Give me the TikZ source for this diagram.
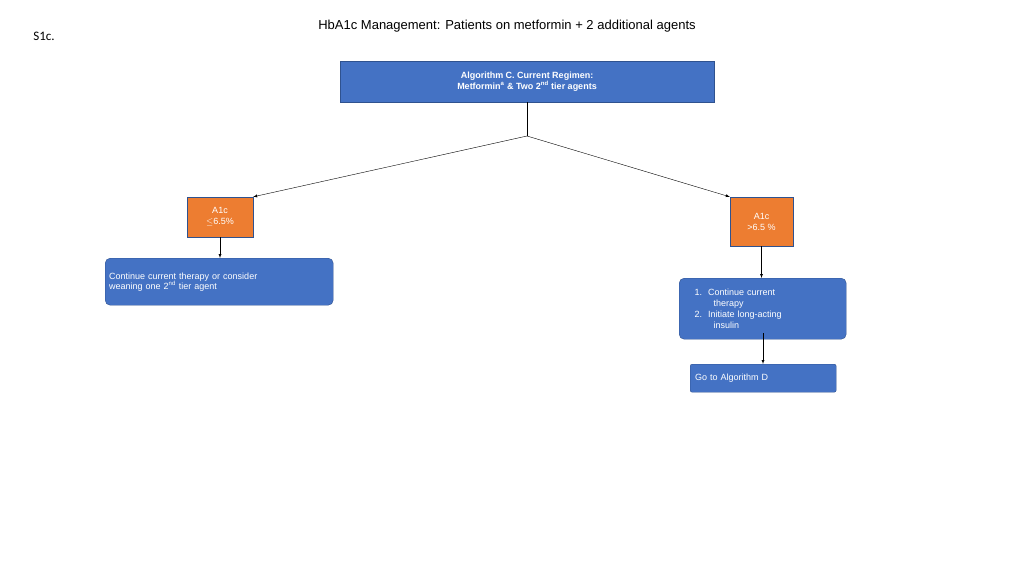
\documentclass[tikz,border=0pt]{standalone}
\usepackage{fontspec}
\setmainfont{Liberation Sans}
\newfontfamily\slidefont{Carlito}
\usetikzlibrary{positioning}
\definecolor{boxblue}{HTML}{4472C4}
\definecolor{boxline}{HTML}{2F528F}
\definecolor{boxorange}{HTML}{ED7D31}
\tikzset{
  head/.style={draw=boxline, fill=boxblue, text=white, font=\bfseries\fontsize{9}{11}\selectfont, align=center, inner sep=0pt},
  test/.style={draw=boxline, fill=boxorange, text=white, font=\fontsize{9}{11}\selectfont, align=center, inner sep=0pt},
  action/.style={draw=boxline, fill=boxblue, text=white, rounded corners=5pt, font=\fontsize{9}{11}\selectfont, align=left, inner sep=0pt},
  link/.style={draw=black, thin, -latex}
}
\begin{document}
\begin{tikzpicture}[x=1pt,y=-1pt]
\useasboundingbox (0,0) rectangle (1024,576);
%titles
\node[font=\fontsize{13}{15}\selectfont\slidefont] (tag) at (44,36) {S1c.};
\node[font=\fontsize{13}{15}\selectfont] (title) at (507,26) {HbA1c Management: Patients on metformin + 2 additional agents};
%boxes
\node[head, minimum width=374pt, minimum height=41pt] (regimen) at (527,81.5) {Algorithm C. Current Regimen:\\Metformin\textsuperscript{a} \& Two 2\textsuperscript{nd} tier agents};
\coordinate (split) at (527,136);
\node[test, minimum width=66pt, minimum height=40pt] (low) at (220,217) {A1c\\$\leq$6.5\%};
\node[test, minimum width=63pt, minimum height=49pt] (high) at (761.5,221.5) {A1c\\>6.5 \%};
\node[action, minimum width=228pt, minimum height=47pt, text width=220pt, anchor=north west] (keep) at (105,258) {Continue current therapy or consider\\[-1pt]weaning one 2\textsuperscript{nd} tier agent\\[12pt]};
\node[action, minimum width=167pt, minimum height=61pt, text width=160pt, anchor=north west] (plan) at (679,278) {\hspace*{12pt}1.\hspace{6pt}Continue current\\\hspace*{31pt}therapy\\\hspace*{12pt}2.\hspace{6pt}Initiate long-acting\\\hspace*{31pt}insulin};
\node[action, rounded corners=2pt, minimum width=146pt, minimum height=28pt, text width=136pt, anchor=north west] (algd) at (690,364) {Go to Algorithm D};
\coordinate (tail) at (763,333);
%connectors
\draw[thin] (regimen) -- (split);
\draw[link] (split) -- (low.north east);
\draw[link] (split) -- (high.north west);
\draw[link] (low) -- (low |- keep.north);
\draw[link] (high) -- (high |- plan.north);
\draw[link] (tail) -- (tail |- algd.north);
\end{tikzpicture}
\end{document}
